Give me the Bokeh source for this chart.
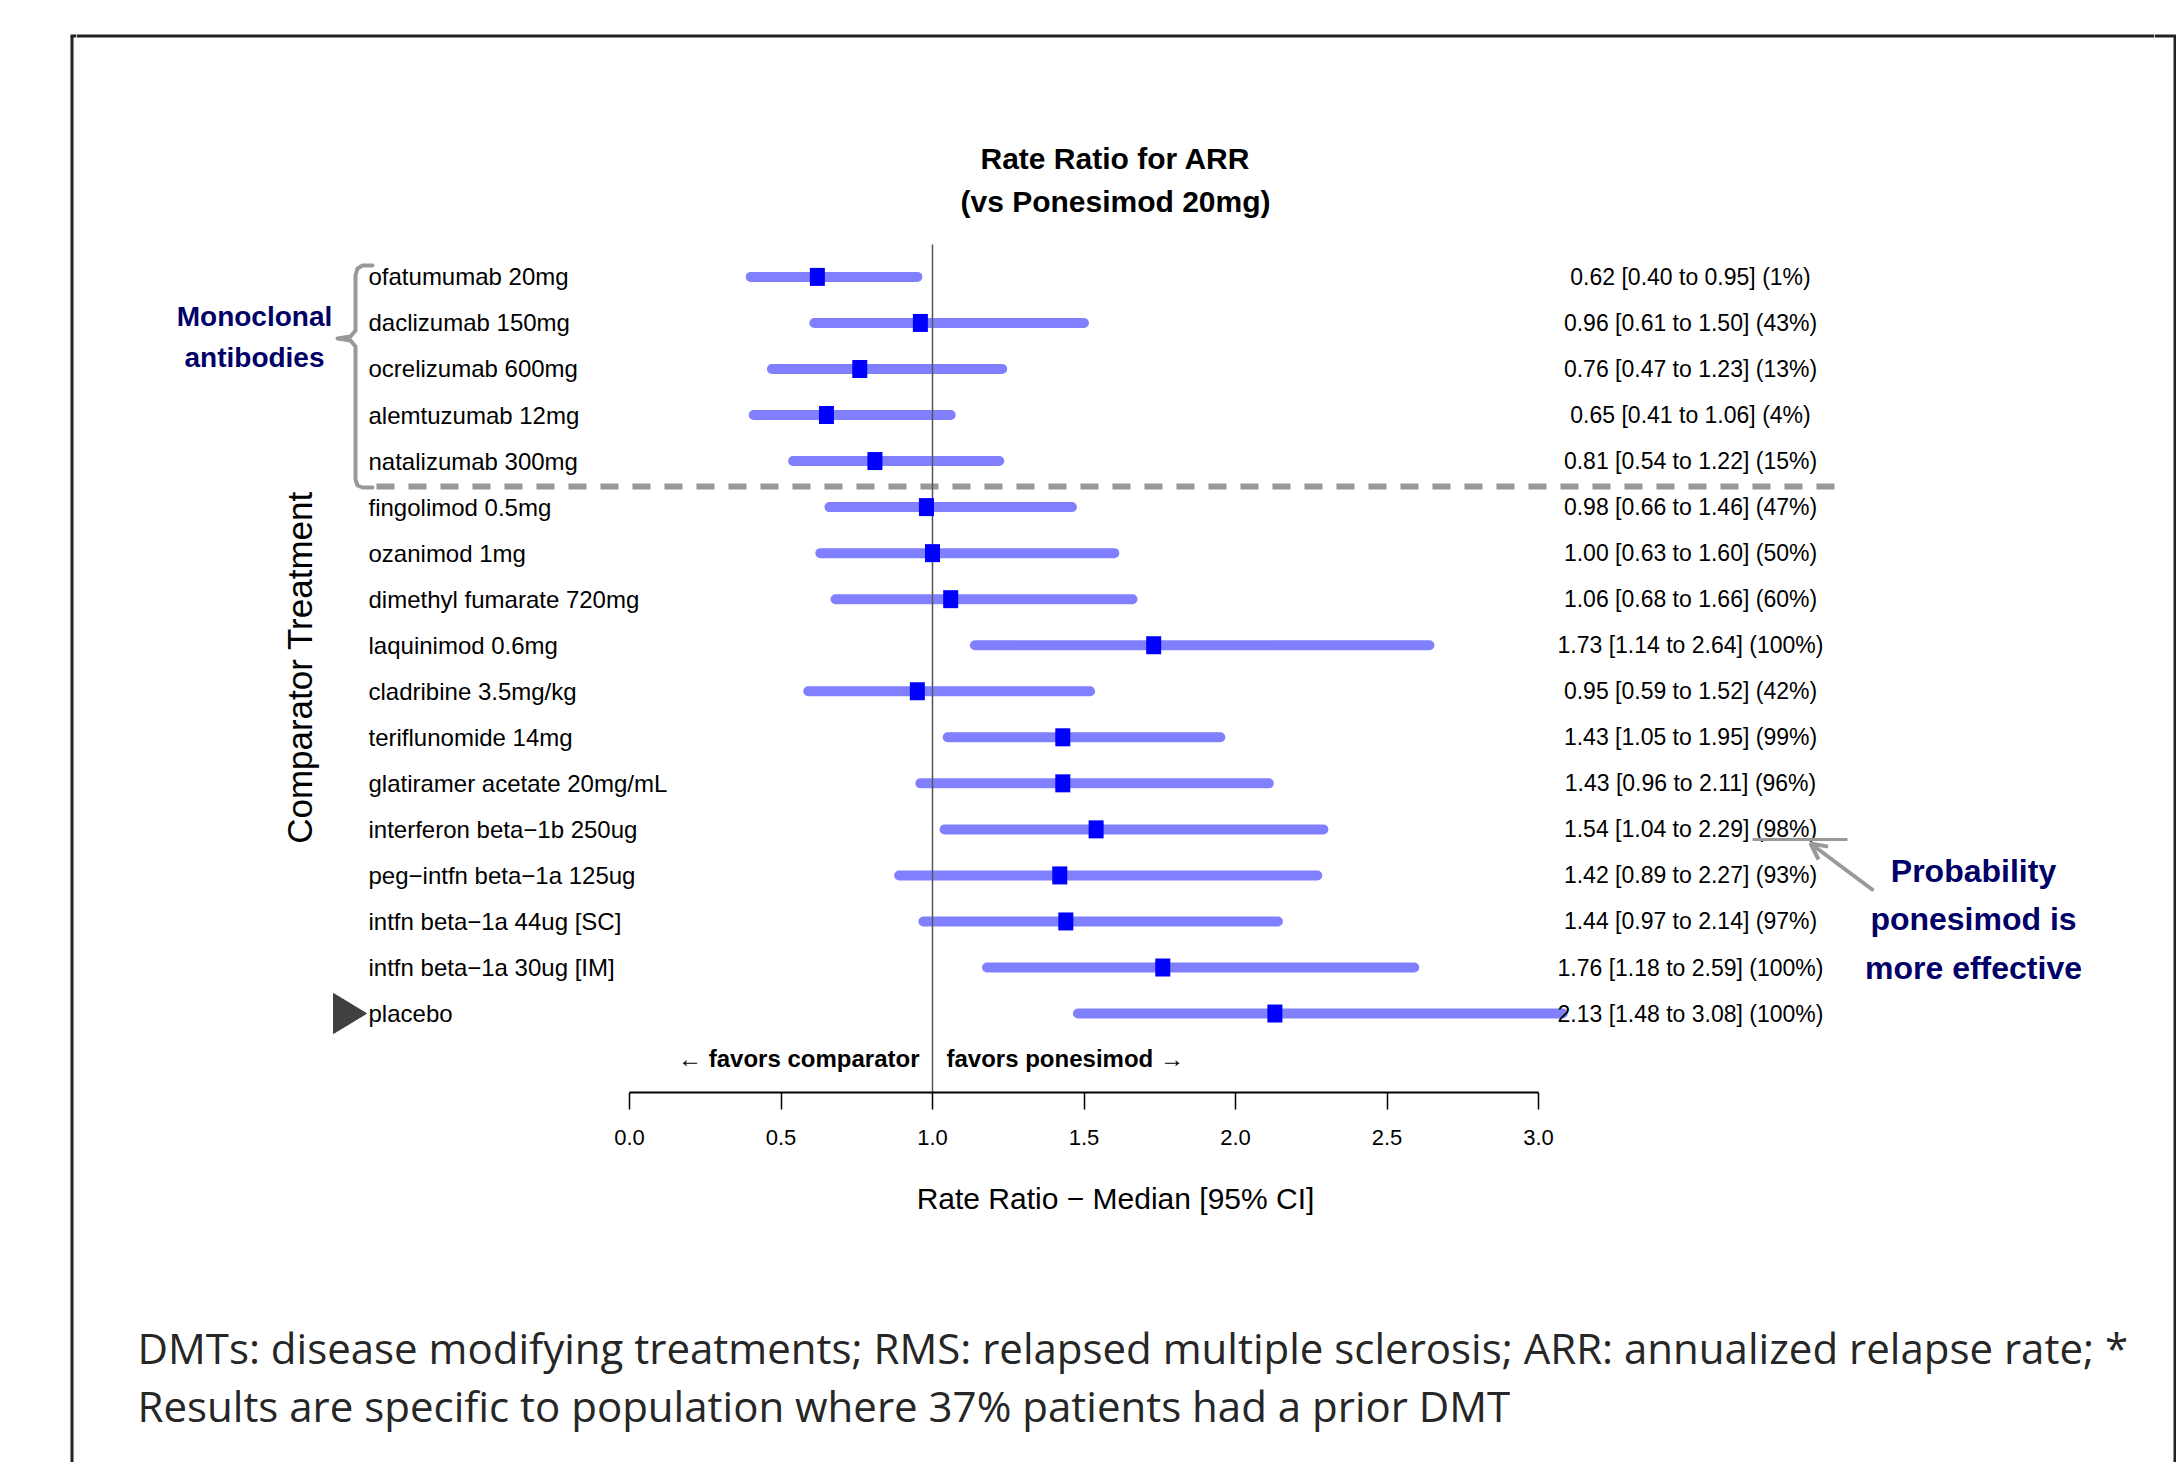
import math
from bokeh.plotting import figure
from bokeh.layouts import row, column
from bokeh.models import (Range1d, ColumnDataSource, FixedTicker, NumeralTickFormatter,
                          Arrow, OpenHead)
from bokeh.core.properties import value
from bokeh.embed import file_html
from bokeh.resources import INLINE

# ---------------- data ----------------
treatments = ["ofatumumab 20mg", "daclizumab 150mg", "ocrelizumab 600mg", "alemtuzumab 12mg",
              "natalizumab 300mg", "fingolimod 0.5mg", "ozanimod 1mg", "dimethyl fumarate 720mg",
              "laquinimod 0.6mg", "cladribine 3.5mg/kg", "teriflunomide 14mg",
              "glatiramer acetate 20mg/mL", "interferon beta\u22121b 250ug",
              "peg\u2212intfn beta\u22121a 125ug", "intfn beta\u22121a 44ug [SC]",
              "intfn beta\u22121a 30ug [IM]", "placebo"]
median = [0.62, 0.96, 0.76, 0.65, 0.81, 0.98, 1.00, 1.06, 1.73, 0.95, 1.43, 1.43, 1.54, 1.42, 1.44, 1.76, 2.13]
lower = [0.40, 0.61, 0.47, 0.41, 0.54, 0.66, 0.63, 0.68, 1.14, 0.59, 1.05, 0.96, 1.04, 0.89, 0.97, 1.18, 1.48]
upper = [0.95, 1.50, 1.23, 1.06, 1.22, 1.46, 1.60, 1.66, 2.64, 1.52, 1.95, 2.11, 2.29, 2.27, 2.14, 2.59, 3.08]
prob_pct = [1, 43, 13, 4, 15, 47, 50, 60, 100, 42, 99, 96, 98, 93, 97, 100, 100]
ticks = [0.0, 0.5, 1.0, 1.5, 2.0, 2.5, 3.0]
tick_labels = ["0.0", "0.5", "1.0", "1.5", "2.0", "2.5", "3.0"]
reference_value = 1.0
footer_lines = ["DMTs: disease modifying treatments; RMS: relapsed multiple sclerosis; ARR: annualized relapse rate; *",
                "Results are specific to population where 37% patients had a prior DMT"]

# ---------------- layout calibration (page pixels) ----------------
W, H = 2176, 1462
LEFT_W, RIGHT_W = 76, 22
MID_W = W - LEFT_W - RIGHT_W
TOP_H = 1240
BOT_H = H - TOP_H
PX0, PXU = 629.0, 303.0      # page x of 0.0 and pixels per unit
PY0, PYU = 276.4, 46.04      # page y of first row and pixels per row
BORDER = "#222222"


def X(px):
    return (px - PX0) / PXU


def Y(py):
    return (py - PY0) / PYU


rows = list(range(len(treatments)))
ci_text = [f"{m:.2f} [{l:.2f} to {u:.2f}] ({q}%)" for m, l, u, q in zip(median, lower, upper, prob_pct)]

src = ColumnDataSource(dict(
    name=treatments, med=median, lo=lower, hi=upper, row=rows, ci=ci_text,
    lx=[X(368)] * len(rows), rx=[X(1690)] * len(rows),
))

FONT = "Liberation Sans"


def plain(width, height, xr, yr):
    f = figure(width=width, height=height, output_backend="svg", toolbar_location=None,
               x_range=xr, y_range=yr, x_axis_location=None, y_axis_location=None,
               min_border=0)
    f.outline_line_color = None
    f.grid.visible = False
    f.background_fill_color = "white"
    f.border_fill_color = "white"
    return f


# ---------------- border strips ----------------
left = plain(LEFT_W, H, Range1d(0, LEFT_W), Range1d(H, 0))
left.line([71.5, 71.5], [35.5, H], line_color=BORDER, line_width=3)
left.line([70, LEFT_W], [35.5, 35.5], line_color=BORDER, line_width=3)

x_r0 = LEFT_W + MID_W
right = plain(RIGHT_W, H, Range1d(x_r0, W), Range1d(H, 0))
right.line([2174.5, 2174.5], [35.5, H], line_color=BORDER, line_width=3)
right.line([x_r0, W], [35.5, 35.5], line_color=BORDER, line_width=3)

# ---------------- main chart ----------------
p = figure(width=MID_W, height=TOP_H, output_backend="svg", toolbar_location=None,
           x_range=Range1d(X(LEFT_W), X(LEFT_W + MID_W)), y_range=Range1d(Y(1092), Y(0)),
           y_axis_location=None, min_border_left=0, min_border_right=0,
           min_border_top=0, min_border_bottom=TOP_H - 1092)
p.outline_line_color = None
p.grid.visible = False
p.background_fill_color = "white"
p.border_fill_color = "white"

ax = p.xaxis[0]
ax.bounds = (ticks[0], ticks[-1])
ax.ticker = FixedTicker(ticks=ticks)
ax.formatter = NumeralTickFormatter(format="0.0")
ax.major_label_overrides = {t: l for t, l in zip(ticks, tick_labels)}
ax.axis_line_width = 2
ax.axis_line_color = "black"
ax.major_tick_line_width = 1.5
ax.major_tick_out = 17
ax.major_tick_in = 0
ax.minor_tick_line_color = None
ax.major_label_text_font = FONT
ax.major_label_text_font_size = "22px"
ax.major_label_text_color = "black"
ax.major_label_standoff = 20
ax.axis_label = "Rate Ratio \u2212 Median [95% CI]"
ax.axis_label_text_font = FONT
ax.axis_label_text_font_size = "30px"
ax.axis_label_text_font_style = "normal"
ax.axis_label_text_color = "black"
ax.axis_label_standoff = 34

# top border inside the chart
p.line([X(LEFT_W), X(LEFT_W + MID_W)], [Y(35.5), Y(35.5)], line_color=BORDER, line_width=3)

# brace for monoclonal antibodies
brace_px = [(372, 265), (362, 265), (357, 268), (355, 275), (355, 330), (350, 336), (337, 338),
            (350, 340), (355, 346), (355, 479), (357, 485), (362, 487), (372, 487)]
p.line([X(a) for a, b in brace_px], [Y(b) for a, b in brace_px], line_color="#999999",
       line_width=4, line_join="round", line_cap="round")
# dashed separator
p.line([X(376), X(1836)], [Y(486), Y(486)], line_color="#999999", line_width=6,
       line_dash="18 14")

# CI bars
p.segment(x0="lo", y0="row", x1="hi", y1="row", source=src, line_color="#8080FF",
          line_width=10, line_cap="round")
# reference line
p.segment(x0=[reference_value], y0=[Y(244)], x1=[reference_value], y1=[Y(1092)],
          line_color="#555555", line_width=1.5)
# medians
p.rect(x="med", y="row", width=15, height=18, width_units="screen", height_units="screen",
       source=src, fill_color="#0000FF", line_color=None)

# treatment labels and CI text
p.text(x="lx", y="row", text="name", source=src, text_align="left", text_baseline="middle",
       text_font=value(FONT), text_font_size="24px", text_color="black")
p.text(x="rx", y="row", text="ci", source=src, text_align="center", text_baseline="middle",
       text_font=value(FONT), text_font_size="23px", text_color="black")

# placebo triangle
p.patch([X(333), X(333), X(366)], [Y(993), Y(1033), Y(1013)], fill_color="#404040",
        line_color="#404040")

# title
p.text(x=[X(1115), X(1115)], y=[Y(158), Y(201)], text=["Rate Ratio for ARR", "(vs Ponesimod 20mg)"],
       text_align="center", text_baseline="middle", text_font=value(FONT),
       text_font_style="bold", text_font_size="30px", text_color="black")

# y label
p.text(x=[X(299)], y=[Y(667)], text=["Comparator Treatment"], angle=math.pi / 2,
       text_align="center", text_baseline="middle", text_font=value(FONT),
       text_font_size="35px", text_color="black")

# group label
p.text(x=[X(254), X(254)], y=[Y(316), Y(357)], text=["Monoclonal", "antibodies"],
       text_align="center", text_baseline="middle", text_font=value(FONT),
       text_font_style="bold", text_font_size="28px", text_color="#000066")

# favors labels
p.text(x=[X(919)], y=[Y(1058)], text=["\u2190 favors comparator"], text_align="right",
       text_baseline="middle", text_font=value(FONT), text_font_style="bold",
       text_font_size="24px", text_color="black")
p.text(x=[X(946)], y=[Y(1058)], text=["favors ponesimod \u2192"], text_align="left",
       text_baseline="middle", text_font=value(FONT), text_font_style="bold",
       text_font_size="24px", text_color="black")

# probability annotation
p.segment(x0=[X(1752)], y0=[Y(839)], x1=[X(1847)], y1=[Y(839)], line_color="#999999", line_width=3)
p.add_layout(Arrow(x_start=X(1873), y_start=Y(890), x_end=X(1810), y_end=Y(843),
                   line_color="#999999", line_width=4, start=None,
                   end=OpenHead(size=16, line_color="#999999", line_width=4)))
p.text(x=[X(1973)] * 3, y=[Y(870), Y(918), Y(967)],
       text=["Probability", "ponesimod is", "more effective"], text_align="center",
       text_baseline="middle", text_font=value(FONT), text_font_style="bold",
       text_font_size="32px", text_color="#000066")

# ---------------- footer ----------------
foot = plain(MID_W, BOT_H, Range1d(LEFT_W, LEFT_W + MID_W), Range1d(H, TOP_H))
foot.text(x=[137, 137], y=[1347, 1405], text=footer_lines, text_align="left",
          text_baseline="alphabetic", text_font=value("Open Sans"), text_font_size="42px",
          text_color="#262626")

layout = row(left, column(p, foot), right)
open("out.html", "w").write(file_html(layout, INLINE))
